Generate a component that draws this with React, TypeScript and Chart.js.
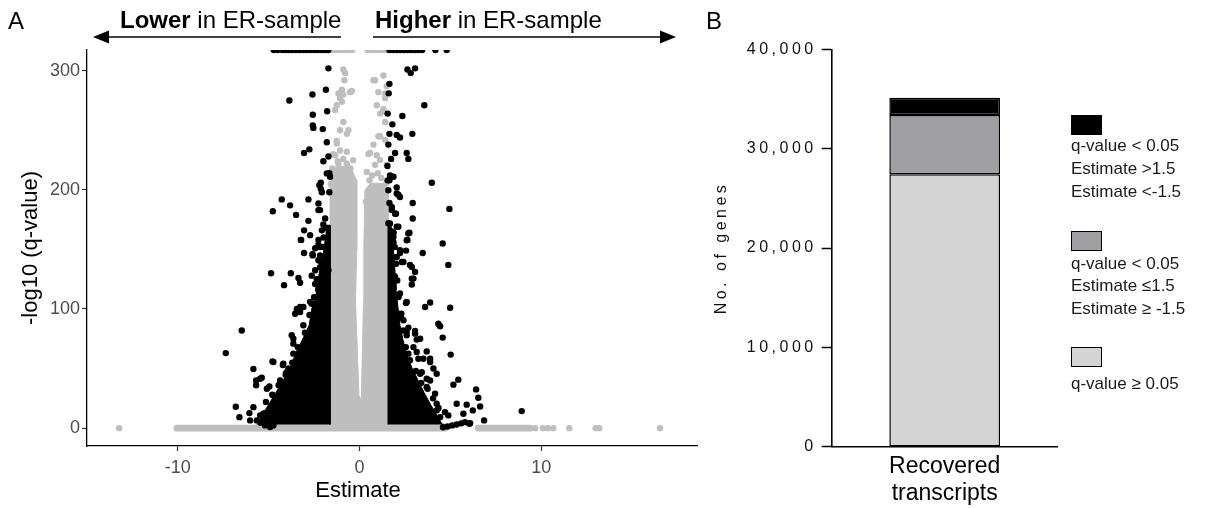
import React, { useEffect, useRef } from 'react';
import { Chart, registerables } from 'chart.js';

Chart.register(...registerables);

const FONT = "'Liberation Sans', Arial, Helvetica, sans-serif";
Chart.defaults.font.family = FONT;

// ---------------- Panel A data (Estimate, -log10 q-value) ----------------
const xTicksA = [-10, 0, 10];
const yTicksA = [0, 100, 200, 300];
const Y_CAP = 317.4; // values capped at the top of the plot

// significant & |Estimate| > 1.5 (black)
const blackPoints: [number, number][] = [
  [-1.71, 302], [-1.85, 284], [-2.59, 280], [-3.86, 275], [-1.78, 266], [-2.57, 263], [-2.57, 254], [-2.54, 252],
  [-2.02, 251], [-1.8, 240], [-2.76, 234], [-3.05, 231], [-1.71, 228], [-1.99, 224], [-1.66, 214], [-2.13, 206],
  [-2.13, 201], [-1.66, 198], [-4.28, 192], [-2.81, 192], [-3.82, 187], [-3.49, 179], [-4.77, 182], [-2.26, 183],
  [-1.89, 176], [-2.81, 174], [-1.99, 171], [-3.05, 166], [-2.72, 162], [-3.23, 158], [-2.17, 152], [-3.05, 147],
  [-2.59, 146], [-1.8, 149],
  [2.64, 301], [3.06, 302], [2.82, 298], [1.65, 289], [1.61, 281], [3.57, 271], [1.55, 264], [2.36, 262],
  [1.81, 255], [2.91, 247], [1.65, 247], [2.05, 246], [2.23, 244], [1.59, 238], [1.96, 231], [2.6, 231],
  [1.74, 226], [2.69, 226], [1.54, 220], [1.68, 212], [1.87, 211], [3.98, 206], [1.65, 208], [2.05, 202],
  [2.14, 196], [2.93, 189], [1.65, 189], [4.95, 184], [1.78, 183], [2.01, 180], [2.93, 176], [1.59, 172],
  [2.14, 169], [1.78, 165], [2.75, 164], [2.64, 158], [4.58, 155], [1.87, 156], [2.56, 149], [3.48, 147], [2.23, 147],
  [-3.21, 158], [-2.26, 154], [-2.57, 145], [-2.17, 145], [-1.8, 138], [-4.87, 130], [-3.78, 130], [-4.15, 120],
  [-3.36, 126], [-3.27, 122], [-2.63, 128], [-2.17, 135], [-1.89, 127], [-2.26, 117], [-1.99, 113], [-3.45, 100],
  [-3.27, 97.5], [-2.63, 104.5], [-2.44, 99], [-2.17, 96], [-6.48, 82], [-3.64, 75], [-2.9, 74], [-2.54, 75],
  [-2.72, 68], [-2.26, 68], [-3.64, 62.5], [-3.27, 57], [-7.36, 63], [-4.79, 56], [-4.22, 53], [-3.91, 50],
  [-3.45, 48.5], [-5.84, 49.6], [-5.38, 42.3], [-5.69, 40], [-5.69, 36], [-4.96, 35], [-4.06, 44.5], [-3.73, 40],
  [-4.74, 27.5], [-4.28, 23], [-4.37, 19], [-3.64, 26], [-6.81, 18], [-5.84, 17.6], [-5.2, 12.6], [-6.61, 9.2],
  [-6.06, 12.6], [-6.02, 6.5], [-5.47, 10.7], [-5.38, 5], [-4.74, 2.3],
  [4.89, 137], [2.33, 139.5], [2.78, 137], [3.06, 131], [2.88, 125.5], [2.88, 120.5], [2.56, 105], [3.61, 101.7],
  [3.89, 105.4], [4.99, 101], [2.29, 92.8], [2.69, 84.4], [3.06, 81.5], [2.6, 78], [3.15, 74.3], [4.34, 87.7],
  [4.44, 85.5], [4.58, 76], [5.02, 61.7], [2.97, 68], [3.7, 64.4], [3.89, 58.3], [3.24, 58.3], [3.43, 47],
  [4.07, 50], [4.25, 45.7], [3.7, 41.5], [5.17, 36.5], [5.44, 40.7], [6.42, 32.5], [6.54, 25.5], [6.64, 18.2],
  [6.24, 14.9], [6.86, 6.5], [6.05, 3.7], [4.25, 20.5], [4.71, 13.4], [5.35, 20.5], [5.9, 19.7], [5.72, 12.1],
  [8.93, 14.3], [4.89, 10.7], [4.44, 9.2],
  [4.6, 0.8], [4.85, 1.4], [5.1, 2.3], [5.35, 3.1], [5.6, 4], [5.81, 5], [6.09, 4.2],
  [-2.21, 204], [-2.07, 198], [-2.26, 188.5], [-2.17, 183], [-2.07, 166], [-2.26, 158], [-2.44, 151], [-1.99, 152],
  [-2.26, 141], [-1.8, 143.7], [-2.44, 132.5], [-1.71, 132.5], [-2.44, 121], [-1.89, 124], [-2.26, 115.7],
  [-1.99, 107.3], [-3.09, 101.7], [-2.72, 106], [-1.62, 211], [-1.8, 213.8],
  [2.05, 197], [2.23, 194], [1.78, 185.7], [1.96, 180], [2.69, 163.4], [2.6, 157.7], [2.23, 149.3], [2.42, 139.5],
  [2.88, 135.3], [2.97, 125.5], [1.68, 171.8], [2.05, 169], [1.87, 160.5], [1.78, 152], [2.05, 143.7], [1.78, 135.3],
  [1.96, 126.9], [1.78, 118.5], [2.23, 113], [1.78, 104.5], [1.55, 208], [1.59, 199.7],
  [2.6, 105.9], [2.14, 96], [2.42, 90.5], [2.05, 82], [2.6, 80.7], [3.06, 79.3], [3.34, 75], [2.23, 72.3],
  [2.69, 62.5], [3.15, 63.9], [3.52, 58.3], [3.89, 55.5], [3.34, 45.7], [3.89, 40], [2.6, 47], [3.7, 34.5],
  [2.97, 37.3], [4.16, 28.9], [3.52, 23.3], [4.25, 14.9],
  [-3.27, 101.7], [-3.54, 96], [-2.54, 93.3], [-3.09, 86.3], [-3.73, 77.9], [-3.64, 70.9], [-2.9, 68], [-2.44, 73.7],
  [-2.07, 79.3], [-4.74, 55.5], [-4.19, 54.1], [-4.0, 47], [-3.54, 42.9], [-4.37, 40], [-5.1, 33.1], [-5.47, 41.5],
  [-4.65, 23.3], [-5.29, 12.1], [-3.09, 56.9], [-2.72, 51.3],
  [-5.65, 6.5], [-5.2, 2.3], [-4.92, 1], [-5.45, 4.5],
  // ragged edge of the dense left cloud
  [-5.15, 22], [-4.8, 28], [-4.45, 36], [-4.05, 46], [-3.7, 55], [-3.4, 68], [-3.0, 80], [-2.75, 95],
  [-2.5, 110], [-2.35, 125], [-2.15, 140], [-1.98, 160], [-1.85, 168], [-4.9, 15], [-3.95, 33], [-3.2, 62],
  // ragged edge of the dense right cloud
  [4.35, 17], [4.05, 25], [3.75, 33], [3.4, 38], [3.1, 48], [2.78, 57], [2.55, 68], [2.4, 82], [2.3, 96],
  [2.15, 110], [2.08, 124], [2.02, 138], [1.94, 152], [1.88, 164], [3.9, 12], [3.2, 29],
];

// Estimates of the black points sitting on the cap (top row)
const topRowBlack = [
  -4.72, -4.5, -4.25, -4.05, -3.88, -3.7, -3.5, -3.3, -3.1, -2.9, -2.7, -2.5, -2.3, -2.1, -1.9, -1.72,
  1.65, 1.85, 2.05, 2.25, 2.45, 2.65, 2.85, 3.05, 3.25, 3.45, 4.18, 4.8,
];

// dense black cores (outline of the solid clouds)
const blackCoreLeft: [number, number][] = [
  [-5.58, 3.1], [-5.36, 10.7], [-5.03, 19.1], [-4.59, 30], [-4.2, 40], [-3.82, 50.2], [-3.49, 63.6], [-3.16, 73.7],
  [-2.77, 86.3], [-2.61, 101.4], [-2.33, 115.7], [-2.22, 130], [-2.0, 145.1], [-1.89, 157.7], [-1.78, 170.3],
  [-1.62, 170.3], [-1.62, 3.1],
];
const blackCoreRight: [number, number][] = [
  [1.57, 3.1], [1.57, 170.3], [1.74, 170.3], [1.79, 157.7], [1.9, 145.1], [1.96, 130], [2.01, 115.7], [2.12, 101.4],
  [2.23, 86.3], [2.4, 73.7], [2.62, 61.1], [2.9, 50.2], [3.23, 40], [3.55, 30], [3.94, 19.1], [4.27, 10.7], [4.55, 3.1],
];

// non-significant or small estimate (grey)
const grayPoints: [number, number][] = [
  [-0.89, 301], [-0.79, 298], [-0.83, 292], [-0.97, 284], [-1.16, 281], [-0.52, 282], [-0.89, 280], [-1.07, 277],
  [-1.25, 271], [-1.34, 267], [-0.97, 274], [-0.89, 257], [-1.07, 250], [-0.61, 250], [-0.7, 247], [-1.25, 239],
  [-1.07, 233], [-0.7, 232], [-1.34, 229], [-0.89, 226], [-1.16, 222], [-0.7, 222], [-0.42, 283], [-1.25, 241],
  [-1.5, 218], [-1.2, 224], [-0.5, 218], [-0.45, 210], [-1.58, 205], [-0.35, 225], [-1.45, 230], [-0.3, 195],
  [1.32, 296], [0.86, 292], [1.5, 287], [1.04, 282], [1.41, 277], [0.95, 271], [1.32, 268], [1.13, 264],
  [1.41, 257], [1.04, 245], [1.41, 242], [0.77, 238], [0.58, 231], [0.95, 229], [1.13, 225], [0.86, 221],
  [1.5, 221], [0.77, 292], [1.41, 281], [1.32, 266], [0.49, 230], [1.13, 245], [0.7, 212], [1.2, 210],
  [0.55, 208], [1.5, 206], [0.4, 215], [1.0, 214], [0.35, 190],
  [-13.23, 0], [9.67, 0], [10.1, 0], [10.37, 0], [10.67, 0], [11.55, 0], [13.0, 0], [13.2, 0], [16.54, 0],
];
const topRowGray = [-1.55, -1.35, -1.15, -0.95, -0.75, -0.55, -0.4, 0.45, 0.65, 0.85, 1.05, 1.25, 1.45];

// dense grey columns (outline of the solid clouds)
const grayCoreLeft: [number, number][] = [
  [-1.62, -1.9], [-1.62, 214.7], [-1.29, 219.7], [-0.52, 219.7], [-0.16, 208], [-0.15, 149], [-0.22, 107],
  [-0.1, 57], [-0.03, 27.5], [0.14, 21.6], [0.14, -1.9],
];
const grayCoreRight: [number, number][] = [
  [0.09, -1.9], [0.09, 21.6], [0.12, 27.5], [0.15, 57], [0.22, 107], [0.24, 149], [0.3, 199.6], [0.6, 205.5],
  [1.46, 205.5], [1.57, 199.6], [1.57, -1.9],
];
// runs of grey points along q-value ~ 1 (-log10 = 0): [from, to, value]
const grayBaseRuns: [number, number, number][] = [
  [-10.05, 4.7, 0],
  [-5.5, 4.5, 1.5],
  [6.54, 9.39, 0],
];

// ---------------- Panel B data ----------------
const barCategories = [['Recovered', 'transcripts']];
const nonSignificant = [27430];   // q-value >= 0.05
const sigSmallEstimate = [5960];  // q < 0.05, |Estimate| <= 1.5
const sigLargeEstimate = [1740];  // q < 0.05, |Estimate| > 1.5
const yTicksB = [0, 10000, 20000, 30000, 40000];

const legendItems = [
  { color: '#000000', lines: ['q-value < 0.05', 'Estimate >1.5', 'Estimate <-1.5'] },
  { color: '#9e9ea3', lines: ['q-value < 0.05', 'Estimate ≤1.5', 'Estimate ≥ -1.5'] },
  { color: '#d4d4d4', lines: ['q-value ≥ 0.05'] },
];

const BLACK = '#000000';
const GREY = '#bebebe';

const toXY = (arr: [number, number][]) => arr.map(([x, y]) => ({ x, y }));

function polygon(data: [number, number][], color: string) {
  return {
    type: 'line' as const,
    data: toXY(data),
    fill: 'shape',
    backgroundColor: color,
    borderColor: color,
    borderWidth: 1,
    pointRadius: 0,
    tension: 0,
    clip: 0,
  };
}

function VolcanoChart() {
  const ref = useRef<HTMLCanvasElement | null>(null);
  useEffect(() => {
    if (!ref.current) return;
    const datasets: any[] = [
      {
        type: 'scatter',
        data: [...toXY(blackPoints), ...topRowBlack.map((x) => ({ x, y: Y_CAP }))],
        backgroundColor: BLACK,
        borderWidth: 0,
        pointRadius: 3.2,
        clip: 0,
      },
      polygon(blackCoreLeft, BLACK),
      polygon(blackCoreRight, BLACK),
      {
        type: 'scatter',
        data: [...toXY(grayPoints), ...topRowGray.map((x) => ({ x, y: Y_CAP }))],
        backgroundColor: GREY,
        borderWidth: 0,
        pointRadius: 3.2,
        clip: 0,
      },
      polygon(grayCoreLeft, GREY),
      polygon(grayCoreRight, GREY),
      ...grayBaseRuns.map(([a, b, v], i) => ({
        type: 'line',
        data: [{ x: a, y: v }, { x: b, y: v }],
        borderColor: GREY,
        borderWidth: i === 1 ? 8.5 : 6.8,
        borderCapStyle: 'round',
        pointRadius: 0,
        fill: false,
        clip: 0,
      })),
    ];
    const chart = new Chart(ref.current, {
      type: 'scatter',
      data: { datasets },
      options: {
        responsive: false,
        animation: false,
        events: [],
        layout: { padding: { left: 0, top: 50, right: 8, bottom: 0 } },
        plugins: { legend: { display: false }, tooltip: { enabled: false } },
        scales: {
          x: {
            type: 'linear',
            min: -15,
            max: 18.58,
            afterBuildTicks: (s: any) => { s.ticks = xTicksA.map((value) => ({ value })); },
            afterFit: (s: any) => { s.height = 62; },
            grid: { display: true, drawOnChartArea: false, drawTicks: true, tickLength: 5, tickColor: '#333', tickWidth: 1.2 },
            border: { display: true, color: '#000', width: 1.3 },
            ticks: { font: { size: 18 }, color: '#4d4d4d', padding: 6 },
          },
          y: {
            type: 'linear',
            min: -15,
            max: Y_CAP,
            afterBuildTicks: (s: any) => { s.ticks = yTicksA.map((value) => ({ value })); },
            afterFit: (s: any) => { s.width = 87; },
            grid: { display: true, drawOnChartArea: false, drawTicks: true, tickLength: 5, tickColor: '#333', tickWidth: 1.2 },
            border: { display: true, color: '#000', width: 1.3 },
            ticks: { font: { size: 18 }, color: '#4d4d4d', padding: 2 },
            title: { display: true, text: '-log10 (q-value)', font: { size: 22 }, color: '#000', padding: { top: 18, bottom: 0 } },
          },
        },
      } as any,
    });
    return () => chart.destroy();
  }, []);
  return <canvas ref={ref} width={705} height={508} style={{ position: 'absolute', left: 0, top: 0 }} />;
}

const spacingPlugin = {
  id: 'letterSpacingY',
  beforeDraw(chart: any) { chart.ctx.letterSpacing = '3.5px'; },
  beforeDatasetsDraw(chart: any) { chart.ctx.letterSpacing = '0px'; },
  afterDraw(chart: any) { chart.ctx.letterSpacing = '0px'; },
};

function BarChart() {
  const ref = useRef<HTMLCanvasElement | null>(null);
  useEffect(() => {
    if (!ref.current) return;
    const common = { borderColor: '#000', borderWidth: 1.5, borderSkipped: false, barPercentage: 0.49, categoryPercentage: 1 };
    const chart = new Chart(ref.current, {
      type: 'bar',
      data: {
        labels: barCategories as any,
        datasets: [
          { label: 'q-value ≥ 0.05', data: nonSignificant, backgroundColor: '#d4d4d4', ...common },
          { label: 'q < 0.05, |Estimate| ≤ 1.5', data: sigSmallEstimate, backgroundColor: '#9e9ea3', ...common },
          { label: 'q < 0.05, |Estimate| > 1.5', data: sigLargeEstimate, backgroundColor: '#000000', ...common },
        ],
      },
      options: {
        responsive: false,
        animation: false,
        events: [],
        layout: { padding: { left: 0, top: 49.3, right: 149.3, bottom: 0 } },
        plugins: { legend: { display: false }, tooltip: { enabled: false } },
        scales: {
          x: {
            stacked: true,
            afterFit: (s: any) => { s.height = 61.3; },
            grid: { display: false, drawTicks: false },
            border: { display: true, color: '#000', width: 1.6 },
            ticks: { font: { size: 23, lineHeight: 1.15 }, color: '#000', padding: 7, z: 1 },
          },
          y: {
            stacked: true,
            min: 0,
            max: 40000,
            afterBuildTicks: (s: any) => { s.ticks = yTicksB.map((value) => ({ value })); },
            afterFit: (s: any) => { s.width = 126.7; },
            grid: { display: true, drawOnChartArea: false, drawTicks: true, tickLength: 10, tickColor: '#000', tickWidth: 1.5 },
            border: { display: true, color: '#000', width: 1.6 },
            ticks: {
              font: { size: 16 },
              color: '#111',
              padding: 5,
              callback: (v: any) => Number(v).toLocaleString('en-US'),
            },
            title: { display: true, text: 'No. of genes', font: { size: 16 }, color: '#111', padding: { top: 7, bottom: 0 } },
          },
        },
      } as any,
      plugins: [spacingPlugin],
    });
    return () => chart.destroy();
  }, []);
  return <canvas ref={ref} width={502} height={508} style={{ position: 'absolute', left: 705, top: 0 }} />;
}

const legendTops = [
  { box: 115, text: 135.3 },
  { box: 231, text: 252.6 },
  { box: 347, text: 372.6 },
];

export default function App() {
  useEffect(() => {
    document.body.style.margin = '0';
  }, []);
  const textBase: React.CSSProperties = { position: 'absolute', fontFamily: FONT, color: '#000', whiteSpace: 'nowrap' };
  return (
    <div style={{ position: 'absolute', left: 0, top: 0, width: 1207, height: 508, background: '#fff', overflow: 'hidden' }}>
      <VolcanoChart />
      <BarChart />
      <div style={{ ...textBase, left: 8, top: 9, fontSize: 24, lineHeight: '24px' }}>A</div>
      <div style={{ ...textBase, left: 706, top: 9, fontSize: 24, lineHeight: '24px' }}>B</div>
      <div style={{ ...textBase, left: 120, top: 8, fontSize: 24, lineHeight: '24px' }}>
        <b>Lower</b> in ER-sample
      </div>
      <div style={{ ...textBase, left: 375, top: 8, fontSize: 24, lineHeight: '24px' }}>
        <b>Higher</b> in ER-sample
      </div>
      <div style={{ ...textBase, left: 258, width: 200, textAlign: 'center', top: 479, fontSize: 22, lineHeight: '22px' }}>
        Estimate
      </div>
      <svg width={700} height={60} style={{ position: 'absolute', left: 0, top: 0 }}>
        <line x1={106} y1={37} x2={341} y2={37} stroke="#000" strokeWidth={1.6} />
        <polygon points="93,37 109,30.5 109,43.5" fill="#000" />
        <line x1={373} y1={37} x2={663} y2={37} stroke="#000" strokeWidth={1.6} />
        <polygon points="676,37 660,30.5 660,43.5" fill="#000" />
      </svg>
      {legendItems.map((item, i) => (
        <React.Fragment key={i}>
          <div
            style={{
              position: 'absolute',
              left: 1071,
              top: legendTops[i].box,
              width: 31,
              height: 20,
              background: item.color,
              border: '1.5px solid #000',
              boxSizing: 'border-box',
            }}
          />
          <div style={{ ...textBase, left: 1071, top: legendTops[i].text, fontSize: 17, lineHeight: '22.7px', color: '#1a1a1a' }}>
            {item.lines.map((l, j) => (
              <div key={j}>{l}</div>
            ))}
          </div>
        </React.Fragment>
      ))}
    </div>
  );
}
